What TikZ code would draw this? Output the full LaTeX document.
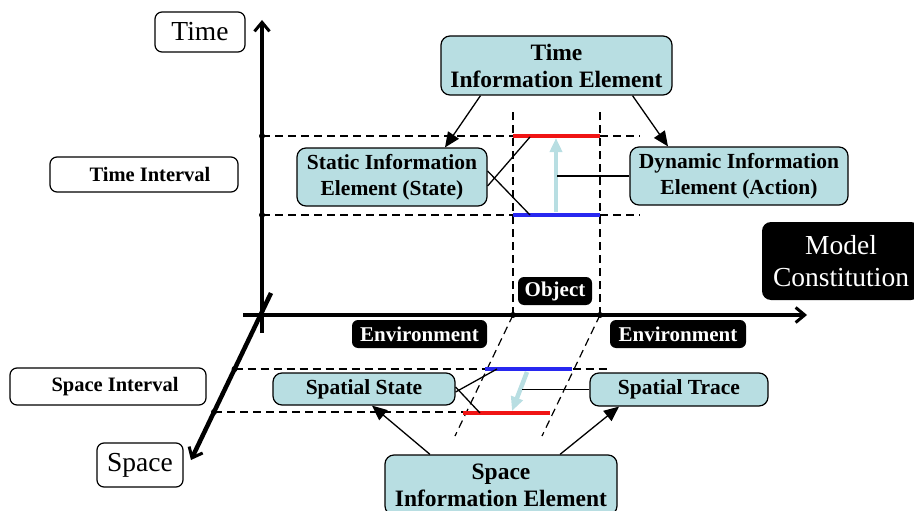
\documentclass[tikz,border=0pt]{standalone}
\usepackage{fontspec}
\setmainfont{Liberation Serif}
\usetikzlibrary{arrows.meta}
\definecolor{boxfill}{RGB}{184,222,226}
\definecolor{ivred}{RGB}{240,20,20}
\definecolor{ivblue}{RGB}{40,40,240}
\begin{document}
\begin{tikzpicture}[x=1pt,y=-1pt,
  elem/.style={draw, rounded corners=9pt, fill=boxfill, line width=1.2pt,
    font=\bfseries\fontsize{21.5}{26}\selectfont, align=center, inner sep=0pt},
  bigelem/.style={elem, font=\bfseries\fontsize{23.5}{27}\selectfont},
  lbl/.style={draw, rounded corners=7pt, fill=white, line width=1.2pt,
    align=center, inner sep=0pt},
  boldlbl/.style={lbl, font=\bfseries\fontsize{20.5}{24}\selectfont},
  plainlbl/.style={lbl, font=\fontsize{27.5}{30}\selectfont},
  blk/.style={fill=black, rounded corners=6pt, text=white, inner sep=0pt,
    align=center, font=\bfseries\fontsize{21}{24}\selectfont},
  axisline/.style={line width=4.5pt, -{Straight Barb[length=9pt,width=15pt,line width=3pt]}},
  guide/.style={dash pattern=on 8pt off 5pt, line width=1.2pt},
  ptr/.style={line width=1.3pt, -{Triangle[length=15pt,width=13pt]}},
  tie/.style={line width=1.3pt},
  band/.style={line width=3.5pt},
  flow/.style={draw=boxfill, line width=4.5pt, -{Triangle[length=14pt,width=12pt]}},
  dot/.style={circle, fill=black, inner sep=0pt, minimum size=6pt}]

\useasboundingbox (0,0) rectangle (914,511);

% ---- axes ----
\coordinate (tbot) at (262,333);
\coordinate (ttop) at (262,20);
\coordinate (hleft) at (243,315);
\coordinate (hright) at (807,315);
\coordinate (stop) at (271,293);
\coordinate (sbot) at (191,460);
\draw[axisline] (tbot) -- (ttop);
\draw[axisline] (hleft) -- (hright);
\draw[axisline] (stop) -- (sbot);

% ---- time interval ----
\coordinate (t1) at (262,136);
\coordinate (t2) at (262,215);
\coordinate (t1e) at (640,136);
\coordinate (t2e) at (640,215);
\draw[guide] (t1) -- (t1e);
\draw[guide] (t2) -- (t2e);

% ---- object boundaries ----
\coordinate (oa) at (513,315);
\coordinate (ob) at (600,315);
\coordinate (oatop) at (513,110);
\coordinate (obtop) at (600,110);
\coordinate (oabot) at (455,436);
\coordinate (obbot) at (542,436);
\draw[guide] (oa) -- (oatop);
\draw[guide] (ob) -- (obtop);
\draw[guide] (oa) -- (oabot);
\draw[guide] (ob) -- (obbot);

% ---- space interval ----
\coordinate (s1) at (234.6,369);
\coordinate (s2) at (214,412);
\coordinate (s1e) at (610,369);
\coordinate (s2e) at (550,412);
\draw[guide] (s1) -- (s1e);
\draw[guide] (s2) -- (s2e);

% ---- state bands ----
\coordinate (tr1) at (513,136);
\coordinate (tr2) at (600,136);
\coordinate (tb1) at (513,215);
\coordinate (tb2) at (600,215);
\draw[band, ivred] (tr1) -- (tr2);
\draw[band, ivblue] (tb1) -- (tb2);
\coordinate (sb1) at (485,369);
\coordinate (sb2) at (572,369);
\coordinate (sr1) at (463,413);
\coordinate (sr2) at (550,413);
\draw[band, ivblue] (sb1) -- (sb2);
\draw[band, ivred] (sr1) -- (sr2);

% ---- transitions ----
\coordinate (tf1) at (556,212);
\coordinate (tf2) at (556,138);
\draw[flow] (tf1) -- (tf2);
\coordinate (sf1) at (527,372);
\coordinate (sf2) at (512,411);
\draw[flow] (sf1) -- (sf2);

% ---- axis points ----
\foreach \p in {t1,t2,s1,s2,oa,ob} \node[dot] at (\p) {};

% ---- labels ----
\node[plainlbl, minimum width=90pt, minimum height=40pt] (timel) at (200,32) {Time};
\node[plainlbl, minimum width=86pt, minimum height=44pt] (spacel) at (140,465) {Space};
\node[boldlbl, minimum width=188pt, minimum height=35pt] (tint) at (144,174.5) {\hspace*{12pt}Time Interval};
\node[boldlbl, minimum width=196pt, minimum height=37pt] (sint) at (108,386.5) {\hspace*{14pt}Space Interval};

\node[blk, minimum width=74pt, minimum height=28pt] (obj) at (555,291) {Object};
\node[blk, minimum width=135pt, minimum height=28pt] (envl) at (419.5,334) {Environment};
\node[blk, minimum width=136pt, minimum height=28pt] (envr) at (678,334) {Environment};
\node[blk, rounded corners=9pt, minimum width=158pt, minimum height=78pt,
  font=\fontsize{27.5}{32}\selectfont] (model) at (841,261) {Model\\Constitution};

% ---- information elements ----
\node[bigelem, minimum width=231pt, minimum height=59pt] (tie) at (556.5,65.5) {Time\\Information Element};
\node[elem, minimum width=190pt, minimum height=58pt] (static) at (392,177) {Static Information\\Element (State)};
\node[elem, minimum width=218pt, minimum height=58pt] (dyn) at (739,176) {Dynamic Information\\Element (Action)};
\node[elem, minimum width=182pt, minimum height=32pt] (sstate) at (364,389) {Spatial State};
\node[elem, minimum width=178pt, minimum height=33pt] (strace) at (679,389.5) {Spatial Trace};
\node[bigelem, minimum width=232pt, minimum height=60pt] (sie) at (501,485) {Space\\Information Element};

% ---- links ----
\draw[ptr] ([xshift=-76pt]tie.south) -- ([xshift=53pt]static.north);
\draw[ptr] ([xshift=76pt]tie.south) -- ([xshift=-71pt]dyn.north);
\draw[ptr] ([xshift=-71pt]sie.north) -- ([xshift=8pt]sstate.south);
\draw[ptr] ([xshift=59pt]sie.north) -- ([xshift=-60pt]strace.south);

\coordinate (tre) at (530,137);
\coordinate (tbe) at (530,215);
\draw[tie] ([yshift=-9pt]static.east) -- (tre);
\draw[tie] ([yshift=6pt]static.east) -- (tbe);
\coordinate (dyne) at (557,176);
\draw[tie] (dyn.west) -- (dyne);
\coordinate (sbe) at (497,369);
\coordinate (sre) at (480,413);
\draw[tie] ([yshift=-3pt]sstate.east) -- (sbe);
\draw[tie] ([yshift=2pt]sstate.east) -- (sre);
\coordinate (stre) at (522,389.5);
\draw[tie] (strace.west) -- (stre);
\end{tikzpicture}
\end{document}
